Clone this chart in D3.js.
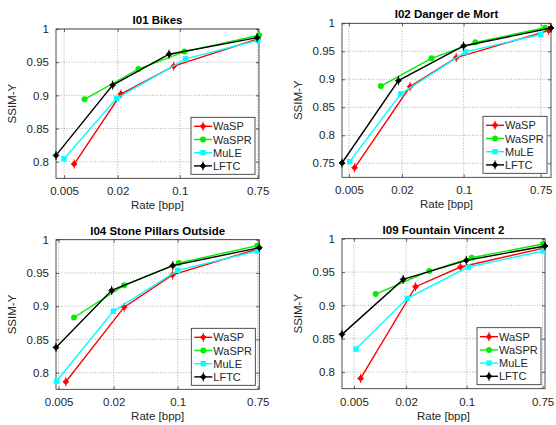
<!DOCTYPE html>
<html><head><meta charset="utf-8">
<script src="https://cdn.jsdelivr.net/npm/d3@7"></script>
<style>body{margin:0;background:#fff}svg{display:block}text{font-family:"Liberation Sans",Arial,Helvetica,sans-serif}</style>
</head><body><svg id="chart" width="556" height="425"></svg>
<script>
const titles = ["I01 Bikes", "I02 Danger de Mort", "I04 Stone Pillars Outside", "I09 Fountain Vincent 2"];
const seriesNames = ["WaSP", "WaSPR", "MuLE", "LFTC"];
const seriesColors = ["#ff0000", "#00ee00", "#00ffff", "#000000"];
const xTickValues = [0.005, 0.02, 0.1, 0.75];
const xTickLabels = ["0.005", "0.02", "0.1", "0.75"];
const yTickValues = [0.75, 0.8, 0.85, 0.9, 0.95, 1];
const yMins = [0.775, 0.725, 0.775, 0.775];

// I01 Bikes: rates [bpp] and SSIM-Y per series (WaSP, WaSPR, MuLE, LFTC)
const I01_rate = [[0.0065, 0.0218, 0.0853, 0.75], [0.0085, 0.0342, 0.1125, 0.776], [0.005, 0.0195, 0.116, 0.75], [0.00406, 0.0176, 0.0757, 0.74]];
const I01_ssim = [[0.7965, 0.902, 0.944, 0.985], [0.894, 0.9397, 0.966, 0.9905], [0.8045, 0.8955, 0.955, 0.983], [0.8095, 0.9155, 0.962, 0.987]];
// I02 Danger de Mort
const I02_rate = [[0.0058, 0.0247, 0.0824, 0.92], [0.0115, 0.0432, 0.136, 0.84], [0.0051, 0.0194, 0.105, 0.75], [0.00417, 0.0182, 0.0998, 0.98]];
const I02_ssim = [[0.742, 0.887, 0.9387, 0.987], [0.888, 0.9375, 0.966, 0.992], [0.753, 0.874, 0.949, 0.98], [0.7505, 0.8976, 0.9595, 0.9915]];
// I04 Stone Pillars Outside
const I04_rate = [[0.006, 0.026, 0.0877, 0.76], [0.00736, 0.026, 0.103, 0.74], [0.00476, 0.0198, 0.1, 0.74], [0.00468, 0.019, 0.0885, 0.78]];
const I04_ssim = [[0.7864, 0.8985, 0.947, 0.9864], [0.883, 0.9314, 0.965, 0.991], [0.7874, 0.8924, 0.954, 0.983], [0.838, 0.9238, 0.961, 0.988]];
// I09 Fountain Vincent 2
const I09_rate = [[0.00597, 0.0257, 0.0847, 0.75], [0.0089, 0.037, 0.114, 0.76], [0.00527, 0.0206, 0.104, 0.76], [0.00364, 0.0185, 0.099, 0.80]];
const I09_ssim = [[0.7904, 0.928, 0.9575, 0.9855], [0.917, 0.9515, 0.9715, 0.992], [0.8344, 0.9105, 0.9575, 0.9815], [0.8565, 0.939, 0.9675, 0.989]];

const panelRates = [I01_rate, I02_rate, I04_rate, I09_rate];
const panelSsims = [I01_ssim, I02_ssim, I04_ssim, I09_ssim];

// layout boxes [left, top, right, bottom]
const boxes = [[56, 29, 259, 178.3], [342, 23.3, 551, 177.3], [56, 239.7, 259.3, 389.3], [342, 238.7, 545, 388.7]];

const svg = d3.select("#chart");
const axisColor = "#262626";

function marker(g, i, x, y, color) {
  if (i === 0 || i === 3) {
    g.append("path").attr("d", d3.symbol(d3.symbolDiamond2, 22)()).attr("transform", `translate(${x},${y})`).attr("fill", color).attr("stroke", color).attr("stroke-width", 0.8);
    g.append("line").attr("x1", x).attr("x2", x).attr("y1", y - 4.5).attr("y2", y + 4.5).attr("stroke", color).attr("stroke-width", 1);
  } else if (i === 1) {
    g.append("circle").attr("cx", x).attr("cy", y).attr("r", 3).attr("fill", color);
  } else {
    g.append("rect").attr("x", x - 2.7).attr("y", y - 2.7).attr("width", 5.4).attr("height", 5.4).attr("fill", color);
  }
}

panelRates.forEach((rates, p) => {
  const ssims = panelSsims[p];
  const [L, T, R, B] = boxes[p];
  const allRates = rates.flat();
  const x = d3.scaleLog().domain(d3.extent(allRates)).range([L, R]);
  const y = d3.scaleLinear().domain([yMins[p], 1]).range([B, T]);
  const g = svg.append("g");
  const yt = yTickValues.filter(v => v >= yMins[p] - 1e-9);

  // grid
  g.append("g").selectAll("line").data(xTickValues).join("line")
    .attr("x1", d => x(d)).attr("x2", d => x(d)).attr("y1", T).attr("y2", B)
    .attr("stroke", "#9a9a9a").attr("stroke-width", 0.8).attr("stroke-dasharray", "1,1.6");
  g.append("g").selectAll("line").data(yt).join("line")
    .attr("x1", L).attr("x2", R).attr("y1", d => y(d)).attr("y2", d => y(d))
    .attr("stroke", "#9a9a9a").attr("stroke-width", 0.8).attr("stroke-dasharray", "1,1.6");

  // axes via d3 axes (ticks inward)
  const xa = d3.axisBottom(x).tickValues(xTickValues).tickFormat((d, i) => xTickLabels[i]).tickSizeInner(-3).tickSizeOuter(0).tickPadding(9);
  const gx = g.append("g").attr("transform", `translate(0,${B})`).call(xa);
  const xt = d3.axisTop(x).tickValues(xTickValues).tickFormat("").tickSizeInner(-3).tickSizeOuter(0);
  const gxt = g.append("g").attr("transform", `translate(0,${T})`).call(xt);
  const ya = d3.axisLeft(y).tickValues(yt).tickFormat(d => d === 1 ? "1" : d3.format("")(d)).tickSizeInner(-3).tickSizeOuter(0).tickPadding(7);
  const gy = g.append("g").attr("transform", `translate(${L},0)`).call(ya);
  const yr = d3.axisRight(y).tickValues(yt).tickFormat("").tickSizeInner(-3).tickSizeOuter(0);
  const gyr = g.append("g").attr("transform", `translate(${R},0)`).call(yr);
  [gx, gxt, gy, gyr].forEach(a => {
    a.select(".domain").remove();
    a.selectAll("line").attr("stroke", axisColor).attr("stroke-width", 0.7);
    a.selectAll("text").attr("fill", axisColor).attr("font-size", "11.5px").attr("font-family", '"Liberation Sans",Arial,sans-serif');
  });
  g.append("rect").attr("x", L).attr("y", T).attr("width", R - L).attr("height", B - T)
    .attr("fill", "none").attr("stroke", axisColor).attr("stroke-width", 0.8);

  // series
  const clipId = "clip" + p;
  svg.append("clipPath").attr("id", clipId).append("rect").attr("x", L - 6).attr("y", T - 6).attr("width", R - L + 12).attr("height", B - T + 12);
  const sg = g.append("g").attr("clip-path", `url(#${clipId})`);
  const line = d3.line().x(d => x(d[0])).y(d => y(d[1]));
  rates.forEach((r, i) => {
    const pts = r.map((v, k) => [v, ssims[i][k]]);
    sg.append("path").attr("d", line(pts)).attr("fill", "none").attr("stroke", seriesColors[i]).attr("stroke-width", 1.4);
    pts.forEach(pt => marker(sg, i, x(pt[0]), y(pt[1]), seriesColors[i]));
  });

  // title and labels
  g.append("text").attr("x", (L + R) / 2).attr("y", T - 5).attr("text-anchor", "middle")
    .attr("font-weight", "bold").attr("font-size", "11.5px").attr("fill", "#000").text(titles[p]);
  g.append("text").attr("x", (L + R) / 2).attr("y", B + 31).attr("text-anchor", "middle")
    .attr("font-size", "11.5px").attr("fill", axisColor).text("Rate [bpp]");
  g.append("text").attr("transform", `translate(${L - 40},${(T + B) / 2}) rotate(-90)`).attr("text-anchor", "middle")
    .attr("font-size", "11.5px").attr("fill", axisColor).text("SSIM-Y");

  // legend
  const lw = 64, lh = 57;
  const lx = R - 4 - lw, ly = B - 4 - lh;
  const lg = g.append("g");
  lg.append("rect").attr("x", lx).attr("y", ly).attr("width", lw).attr("height", lh)
    .attr("fill", "#fff").attr("stroke", axisColor).attr("stroke-width", 0.8);
  seriesNames.forEach((name, i) => {
    const yy = ly + 9 + i * 13.2;
    lg.append("line").attr("x1", lx + 3).attr("x2", lx + 21).attr("y1", yy).attr("y2", yy)
      .attr("stroke", seriesColors[i]).attr("stroke-width", 1.4);
    marker(lg, i, lx + 12, yy, seriesColors[i]);
    lg.append("text").attr("x", lx + 22).attr("y", yy + 4).attr("font-size", "11px").attr("fill", axisColor).text(name);
  });
});
</script></body></html>
